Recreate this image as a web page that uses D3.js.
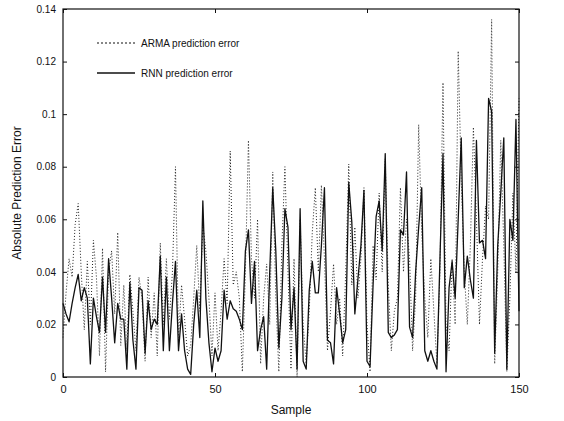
<!DOCTYPE html>
<html>
<head>
<meta charset="utf-8">
<script src="https://cdn.jsdelivr.net/npm/d3@7"></script>
<style>
    body { margin: 0; background: #fff; }
    text { font-family: "Liberation Sans", Arial, sans-serif; fill: #111; }
</style>
</head>
<body>
<svg id="chart-svg" width="564" height="421"></svg>
<script>
// absolute prediction error per sample
const armaError = [
    0.015, 0.032, 0.045, 0.038, 0.058, 0.066, 0.040, 0.018, 0.044, 0.020,
    0.052, 0.038, 0.008, 0.049, 0.002, 0.040, 0.048, 0.024, 0.055, 0.012,
    0.035, 0.010, 0.039, 0.025, 0.010, 0.038, 0.030, 0.006, 0.038, 0.015,
    0.032, 0.008, 0.051, 0.020, 0.045, 0.022, 0.040, 0.080, 0.015, 0.035,
    0.022, 0.008, 0.012, 0.030, 0.050, 0.025, 0.058, 0.048, 0.030, 0.008,
    0.032, 0.010, 0.025, 0.045, 0.028, 0.086, 0.035, 0.040, 0.030, 0.002,
    0.040, 0.090, 0.045, 0.030, 0.060, 0.005, 0.030, 0.043, 0.020, 0.078,
    0.030, 0.002, 0.050, 0.080, 0.040, 0.003, 0.045, 0.000, 0.060, 0.020,
    0.005, 0.025, 0.055, 0.072, 0.040, 0.073, 0.045, 0.010, 0.025, 0.043,
    0.020, 0.030, 0.008, 0.040, 0.081, 0.035, 0.057, 0.030, 0.045, 0.072,
    0.020, 0.002, 0.050, 0.037, 0.070, 0.040, 0.083, 0.035, 0.010, 0.025,
    0.030, 0.072, 0.040, 0.060, 0.045, 0.010, 0.030, 0.096, 0.055, 0.030,
    0.015, 0.045, 0.025, 0.005, 0.040, 0.112, 0.020, 0.010, 0.045, 0.020,
    0.124, 0.075, 0.040, 0.020, 0.050, 0.095, 0.060, 0.020, 0.045, 0.065,
    0.060, 0.136, 0.005, 0.040, 0.090, 0.050, 0.002, 0.030, 0.070, 0.040,
    0.106
];

const rnnError = [
    0.028, 0.024, 0.021, 0.028, 0.034, 0.039, 0.029, 0.034, 0.030, 0.005,
    0.030, 0.023, 0.017, 0.038, 0.017, 0.045, 0.030, 0.013, 0.028, 0.022,
    0.022, 0.003, 0.036, 0.014, 0.003, 0.034, 0.033, 0.009, 0.029, 0.018,
    0.022, 0.020, 0.046, 0.010, 0.038, 0.010, 0.028, 0.044, 0.010, 0.024,
    0.010, 0.003, 0.001, 0.020, 0.033, 0.015, 0.067, 0.030, 0.013, 0.002,
    0.011, 0.006, 0.010, 0.033, 0.022, 0.029, 0.026, 0.025, 0.022, 0.018,
    0.048, 0.056, 0.028, 0.044, 0.010, 0.018, 0.023, 0.003, 0.040, 0.072,
    0.048, 0.011, 0.030, 0.064, 0.057, 0.018, 0.034, 0.003, 0.064, 0.006,
    0.003, 0.033, 0.044, 0.032, 0.032, 0.050, 0.072, 0.014, 0.013, 0.005,
    0.034, 0.024, 0.013, 0.018, 0.074, 0.059, 0.024, 0.037, 0.050, 0.071,
    0.006, 0.004, 0.035, 0.061, 0.067, 0.048, 0.085, 0.017, 0.015, 0.016,
    0.018, 0.056, 0.054, 0.078, 0.019, 0.015, 0.040, 0.057, 0.072, 0.010,
    0.006, 0.010, 0.006, 0.003, 0.045, 0.085, 0.002, 0.034, 0.044, 0.030,
    0.060, 0.091, 0.034, 0.046, 0.037, 0.030, 0.090, 0.051, 0.052, 0.045,
    0.106, 0.101, 0.009, 0.050, 0.070, 0.091, 0.003, 0.060, 0.052, 0.098,
    0.025
];

const xTicks = [0, 50, 100, 150];
const yTicks = [0, 0.02, 0.04, 0.06, 0.08, 0.1, 0.12, 0.14];
const legendLabels = ["ARMA prediction error", "RNN prediction error"];

function makeChart() {
    let svg = d3.select("#chart-svg");
    let margin = {top: 9, right: 45, bottom: 44, left: 63};
    let width = +svg.attr("width") - margin.left - margin.right;
    let height = +svg.attr("height") - margin.top - margin.bottom;

    let x_scale = d3.scaleLinear()
        .domain([0, 150])
        .range([0, width]);

    let y_scale = d3.scaleLinear()
        .domain([0, 0.14])
        .range([height, 0]);

    let g = svg.append("g")
        .attr("transform", `translate(${margin.left},${margin.top})`);

    // x axis (bottom labels, inward ticks)
    let xAxis = g.append("g")
        .attr("transform", "translate(0," + height + ")")
        .call(d3.axisBottom(x_scale).tickValues(xTicks).tickSize(-4).tickPadding(8).tickFormat(d3.format("d")));

    // top ticks
    g.append("g")
        .call(d3.axisTop(x_scale).tickValues(xTicks).tickSize(-4).tickFormat(""));

    // y axis
    let yAxis = g.append("g")
        .call(d3.axisLeft(y_scale).tickValues(yTicks).tickSize(-4).tickPadding(7).tickFormat(d => d === 0 ? "0" : d3.format("")(+d.toFixed(2))));

    // right ticks
    g.append("g")
        .attr("transform", `translate(${width},0)`)
        .call(d3.axisRight(y_scale).tickValues(yTicks).tickSize(-4).tickFormat(""));

    g.selectAll(".domain").remove();
    g.selectAll(".tick line").attr("stroke", "#111");
    xAxis.selectAll("text").attr("font-size", "11px");
    yAxis.selectAll("text").attr("font-size", "10px");

    // frame
    g.append("rect")
        .attr("x", 0)
        .attr("y", 0)
        .attr("width", width)
        .attr("height", height)
        .attr("fill", "none")
        .attr("stroke", "#111")
        .attr("stroke-width", 1.2);

    let line = d3.line()
        .x((d, i) => x_scale(i))
        .y(d => y_scale(d));

    // ARMA (dotted)
    g.append("path")
        .datum(armaError)
        .attr("d", line)
        .attr("fill", "none")
        .attr("stroke", "#222")
        .attr("stroke-width", 1)
        .attr("stroke-dasharray", "1,2");

    // RNN (solid)
    g.append("path")
        .datum(rnnError)
        .attr("d", line)
        .attr("fill", "none")
        .attr("stroke", "#111")
        .attr("stroke-width", 1.3)
        .attr("stroke-linejoin", "round");

    // legend
    let styles = [{dash: "2,2", w: 1.2}, {dash: null, w: 1.3}];
    legendLabels.forEach((label, idx) => {
        let ly = 34 + idx * 30;
        g.append("line")
            .attr("x1", 34)
            .attr("x2", 72)
            .attr("y1", ly)
            .attr("y2", ly)
            .attr("stroke", "#111")
            .attr("stroke-width", styles[idx].w)
            .attr("stroke-dasharray", styles[idx].dash);
        g.append("text")
            .attr("x", 78)
            .attr("y", ly)
            .attr("dy", "0.35em")
            .attr("font-size", "10px")
            .text(label);
    });

    // x label
    svg.append("text")
        .attr("x", margin.left + width / 2)
        .attr("y", 414)
        .attr("font-size", "12px")
        .attr("text-anchor", "middle")
        .text("Sample");

    // y label
    svg.append("text")
        .attr("transform", `translate(21,${margin.top + height / 2}) rotate(-90)`)
        .attr("font-size", "12px")
        .attr("text-anchor", "middle")
        .text("Absolute Prediction Error");
}

makeChart();
</script>
</body>
</html>
